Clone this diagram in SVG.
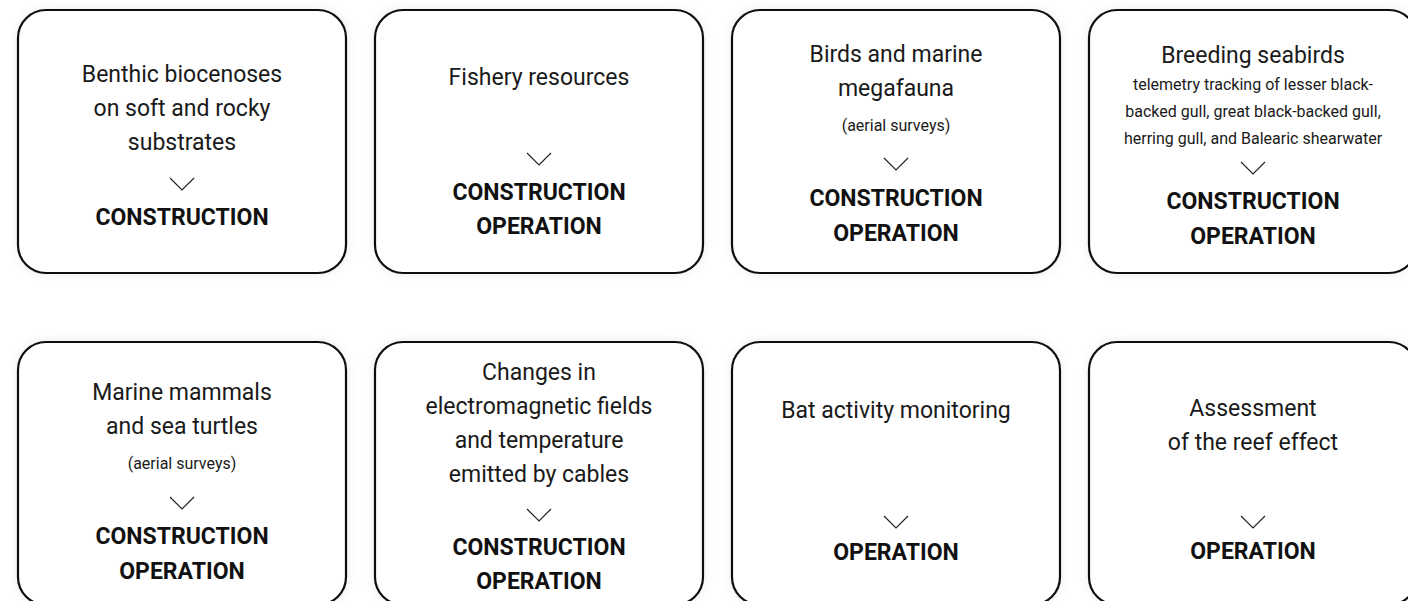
<svg xmlns="http://www.w3.org/2000/svg" width="1408" height="601" viewBox="0 0 1408 601">
<defs>
<filter id="sh" x="-10%" y="-10%" width="120%" height="120%">
<feDropShadow dx="0" dy="0" stdDeviation="5" flood-color="#000" flood-opacity="0.08"/>
</filter>
<style>
.box{fill:#fff;stroke:#111;stroke-width:2.2;filter:url(#sh)}
.t{font-family:Roboto,"Liberation Sans",sans-serif;font-weight:400;font-size:23px;fill:#1a1a1a;text-anchor:middle}
.s{font-family:Roboto,"Liberation Sans",sans-serif;font-weight:400;font-size:16px;fill:#1a1a1a;text-anchor:middle}
.b{font-family:Roboto,"Liberation Sans",sans-serif;font-weight:700;font-size:23px;fill:#111;text-anchor:middle}
.chev{fill:none;stroke:#222;stroke-width:1.2}
</style>
</defs>
<rect width="1408" height="601" fill="#fff"/>
<g id="connectors"></g>
<g id="n1">
<rect class="box" x="18" y="10" width="328" height="263" rx="28"/>
<text class="t" x="182" y="82">Benthic biocenoses</text>
<text class="t" x="182" y="116">on soft and rocky</text>
<text class="t" x="182" y="150">substrates</text>
<polyline class="chev" points="170,178 182,190 194,178"/>
<text class="b" x="182" y="225">CONSTRUCTION</text>
</g>
<g id="n2">
<rect class="box" x="375" y="10" width="328" height="263" rx="28"/>
<text class="t" x="539" y="85">Fishery resources</text>
<polyline class="chev" points="527,153 539,165 551,153"/>
<text class="b" x="539" y="200">CONSTRUCTION</text>
<text class="b" x="539" y="234">OPERATION</text>
</g>
<g id="n3">
<rect class="box" x="732" y="10" width="328" height="263" rx="28"/>
<text class="t" x="896" y="62">Birds and marine</text>
<text class="t" x="896" y="96">megafauna</text>
<text class="s" x="896" y="131">(aerial surveys)</text>
<polyline class="chev" points="884,158 896,170 908,158"/>
<text class="b" x="896" y="206">CONSTRUCTION</text>
<text class="b" x="896" y="241">OPERATION</text>
</g>
<g id="n4">
<rect class="box" x="1089" y="10" width="328" height="263" rx="28"/>
<text class="t" x="1253" y="63">Breeding seabirds</text>
<text class="s" x="1253" y="90">telemetry tracking of lesser black-</text>
<text class="s" x="1253" y="117">backed gull, great black-backed gull,</text>
<text class="s" x="1253" y="144">herring gull, and Balearic shearwater</text>
<polyline class="chev" points="1241,162 1253,174 1265,162"/>
<text class="b" x="1253" y="209">CONSTRUCTION</text>
<text class="b" x="1253" y="244">OPERATION</text>
</g>
<g id="n5">
<rect class="box" x="18" y="342" width="328" height="263" rx="28"/>
<text class="t" x="182" y="400">Marine mammals</text>
<text class="t" x="182" y="434">and sea turtles</text>
<text class="s" x="182" y="469">(aerial surveys)</text>
<polyline class="chev" points="170,497 182,509 194,497"/>
<text class="b" x="182" y="544">CONSTRUCTION</text>
<text class="b" x="182" y="579">OPERATION</text>
</g>
<g id="n6">
<rect class="box" x="375" y="342" width="328" height="263" rx="28"/>
<text class="t" x="539" y="380">Changes in</text>
<text class="t" x="539" y="414">electromagnetic fields</text>
<text class="t" x="539" y="448">and temperature</text>
<text class="t" x="539" y="482">emitted by cables</text>
<polyline class="chev" points="527,509 539,521 551,509"/>
<text class="b" x="539" y="555">CONSTRUCTION</text>
<text class="b" x="539" y="589">OPERATION</text>
</g>
<g id="n7">
<rect class="box" x="732" y="342" width="328" height="263" rx="28"/>
<text class="t" x="896" y="418">Bat activity monitoring</text>
<polyline class="chev" points="884,516 896,528 908,516"/>
<text class="b" x="896" y="560">OPERATION</text>
</g>
<g id="n8">
<rect class="box" x="1089" y="342" width="328" height="263" rx="28"/>
<text class="t" x="1253" y="416">Assessment</text>
<text class="t" x="1253" y="450">of the reef effect</text>
<polyline class="chev" points="1241,516 1253,528 1265,516"/>
<text class="b" x="1253" y="559">OPERATION</text>
</g>
</svg>
